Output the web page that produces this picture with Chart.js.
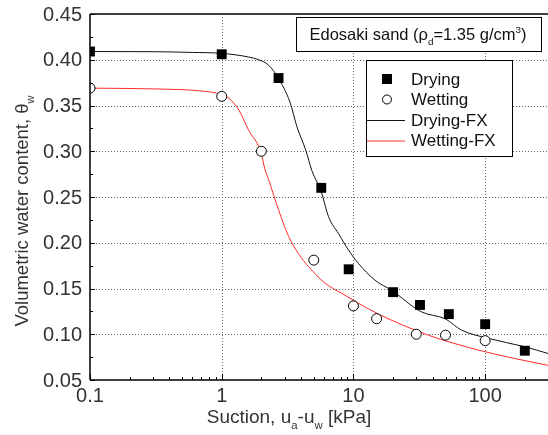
<!DOCTYPE html>
<html>
<head>
<meta charset="utf-8">
<script src="https://cdn.jsdelivr.net/npm/chart.js@4.4.0/dist/chart.umd.min.js"></script>
<style>
  html, body { margin: 0; padding: 0; background: #fff; }
  canvas { display: block; }
</style>
</head>
<body>
<canvas id="myChart" width="548" height="435"></canvas>
<script>
// measured points
var dryingSuction = [0.1, 1, 2.7, 5.7, 9.2, 20, 32, 53, 100, 200];
var dryingTheta = [0.409, 0.406, 0.380, 0.260, 0.171, 0.146, 0.132, 0.122, 0.111, 0.082];
var wettingSuction = [0.1, 1, 2, 5, 10, 15, 30, 50, 100];
var wettingTheta = [0.369, 0.360, 0.300, 0.181, 0.131, 0.117, 0.100, 0.099, 0.093];

// fitted curves (Fredlund-Xing)
var dryingFxSuction = [0.1, 0.3, 0.6, 1, 1.6, 1.91, 2.27, 2.66, 3.31, 3.72, 4.35, 4.83, 5.69, 6.47, 7.7, 9.17, 10.9, 14.6, 19.5, 32.7, 50, 66, 105, 199, 300];
var dryingFxTheta = [0.409, 0.4088, 0.408, 0.407, 0.403, 0.400, 0.394, 0.381, 0.353, 0.327, 0.301, 0.279, 0.256, 0.2285, 0.210, 0.192, 0.1775, 0.159, 0.148, 0.1246, 0.1167, 0.1046, 0.0956, 0.0864, 0.079];
var wettingFxSuction = [0.1, 0.34, 0.68, 1, 1.13, 1.35, 1.6, 1.96, 2.14, 2.27, 2.48, 2.7, 3.22, 3.83, 4.56, 6.1, 8.15, 10.9, 15.5, 37, 88.5, 150, 300];
var wettingFxTheta = [0.369, 0.368, 0.366, 0.362, 0.358, 0.345, 0.323, 0.301, 0.279, 0.269, 0.252, 0.236, 0.207, 0.188, 0.174, 0.1557, 0.1447, 0.134, 0.122, 0.099, 0.0828, 0.075, 0.066];

var xTickValues = [0.1, 1, 10, 100];
var xTickLabels = ['0.1', '1', '10', '100'];
var yTickValues = [0.05, 0.10, 0.15, 0.20, 0.25, 0.30, 0.35, 0.40, 0.45];
var yTickLabels = ['0.05', '0.10', '0.15', '0.20', '0.25', '0.30', '0.35', '0.40', '0.45'];

var FONT = '"Liberation Sans", Arial, sans-serif';

function points(xs, ys) {
    return xs.map(function (x, i) { return { x: x, y: ys[i] }; });
}

// draw text with sub/superscript pieces
function richText(ctx, parts, x, y, size, align) {
    var total = 0;
    parts.forEach(function (p) {
        ctx.font = (p.sub || p.sup ? size * 0.6 : size) + 'px ' + FONT;
        p.w = ctx.measureText(p.t).width;
        total += p.w;
    });
    var cx = align === 'center' ? x - total / 2 : x;
    parts.forEach(function (p) {
        ctx.font = (p.sub || p.sup ? size * 0.6 : size) + 'px ' + FONT;
        var dy = p.sub ? size * 0.3 : (p.sup ? -size * 0.45 : 0);
        ctx.fillText(p.t, cx, y + dy);
        cx += p.w;
    });
}

function seg(ctx, x1, y1, x2, y2) {
    ctx.beginPath();
    ctx.moveTo(x1, y1);
    ctx.lineTo(x2, y2);
    ctx.stroke();
}

var framePlugin = {
    id: 'frame',
    beforeDatasetsDraw: function (chart) {
        var ctx = chart.ctx, a = chart.chartArea;
        var xs = chart.scales.x, ys = chart.scales.y;
        ctx.save();
        ctx.strokeStyle = '#666';
        ctx.lineWidth = 1;
        ctx.setLineDash([1, 2]);
        for (var i = 1; i < yTickValues.length - 1; i++) {
            var py = Math.round(ys.getPixelForValue(yTickValues[i])) + 0.5;
            seg(ctx, a.left, py, a.right, py);
        }
        for (var j = 1; j < xTickValues.length; j++) {
            var px = Math.round(xs.getPixelForValue(xTickValues[j])) + 0.5;
            seg(ctx, px, a.top, px, a.bottom);
        }
        ctx.restore();
    },
    afterDatasetsDraw: function (chart) {
        var ctx = chart.ctx, a = chart.chartArea;
        var xs = chart.scales.x, ys = chart.scales.y;
        ctx.save();

        // hide the parts of the edge markers that fall left of the plot
        ctx.fillStyle = '#fff';
        ctx.fillRect(0, 0, a.left, chart.height);

        // axes
        ctx.strokeStyle = '#000';
        ctx.lineWidth = 1.5;
        seg(ctx, a.left, a.top, a.left, a.bottom);
        seg(ctx, a.left, a.bottom, a.right, a.bottom);
        seg(ctx, a.left, a.top, a.right, a.top);

        // ticks
        ctx.lineWidth = 1;
        var k, m, v, p;
        for (k = -1; k <= 2; k++) {
            for (m = 1; m <= 9; m++) {
                v = m * Math.pow(10, k);
                if (v > 300) continue;
                p = Math.round(xs.getPixelForValue(v)) + 0.5;
                seg(ctx, p, a.bottom, p, a.bottom - (m === 1 ? 6 : 3));
            }
        }
        for (k = 0; k < yTickValues.length; k++) {
            p = Math.round(ys.getPixelForValue(yTickValues[k])) + 0.5;
            seg(ctx, a.left, p, a.left + 5, p);
            if (k < yTickValues.length - 1) {
                p = Math.round(ys.getPixelForValue(yTickValues[k] + 0.025)) + 0.5;
                seg(ctx, a.left, p, a.left + 3, p);
            }
        }

        // tick labels
        ctx.fillStyle = '#333';
        ctx.font = '20px ' + FONT;
        ctx.textAlign = 'right';
        ctx.textBaseline = 'middle';
        for (k = 0; k < yTickValues.length; k++) {
            ctx.fillText(yTickLabels[k], a.left - 8, ys.getPixelForValue(yTickValues[k]) + 1);
        }
        ctx.textAlign = 'center';
        ctx.textBaseline = 'top';
        for (k = 0; k < xTickValues.length; k++) {
            ctx.fillText(xTickLabels[k], xs.getPixelForValue(xTickValues[k]), a.bottom + 6);
        }

        // axis titles
        ctx.textAlign = 'left';
        ctx.textBaseline = 'alphabetic';
        richText(ctx, [{ t: 'Suction, u' }, { t: 'a', sub: true }, { t: '-u' }, { t: 'w', sub: true }, { t: ' [kPa]' }], 289, 423, 19, 'center');
        ctx.save();
        ctx.translate(28, 211);
        ctx.rotate(-Math.PI / 2);
        richText(ctx, [{ t: 'Volumetric water content, \u03b8' }, { t: 'w', sub: true }], 0, 0, 18.5, 'center');
        ctx.restore();

        // annotation box
        ctx.fillStyle = '#fff';
        ctx.strokeStyle = '#000';
        ctx.lineWidth = 1;
        ctx.fillRect(296, 17, 245, 34);
        ctx.strokeRect(296.5, 17.5, 245, 34);
        ctx.fillStyle = '#111';
        richText(ctx, [{ t: 'Edosaki sand (\u03c1' }, { t: 'd', sub: true }, { t: '=1.35 g/cm' }, { t: '3', sup: true }, { t: ')' }], 418, 40, 16.5, 'center');

        // legend box
        ctx.fillStyle = '#fff';
        ctx.fillRect(366, 60, 146, 96);
        ctx.strokeRect(366.5, 60.5, 146, 96);
        var rows = [79, 99.5, 120, 140.5];
        var dsets = chart.data.datasets;
        ctx.font = '17px ' + FONT;
        ctx.textBaseline = 'middle';
        for (k = 0; k < dsets.length; k++) {
            var d = dsets[k], ry = rows[k];
            if (d.showLine) {
                ctx.strokeStyle = d.borderColor;
                ctx.lineWidth = 1;
                seg(ctx, 367, ry + 0.5, 405, ry + 0.5);
            } else if (d.pointStyle === 'rect') {
                ctx.fillStyle = '#000';
                ctx.fillRect(382, ry - 5, 10, 10);
            } else {
                ctx.fillStyle = '#fff';
                ctx.strokeStyle = '#000';
                ctx.lineWidth = 1;
                ctx.beginPath();
                ctx.arc(387, ry, 4.5, 0, Math.PI * 2);
                ctx.fill();
                ctx.stroke();
            }
            ctx.fillStyle = '#111';
            ctx.fillText(d.label, 411, ry + 1);
        }
        ctx.restore();
    }
};

var ctx = document.getElementById('myChart').getContext('2d');
var myChart = new Chart(ctx, {
    type: 'scatter',
    data: {
        datasets: [{
            label: 'Drying',
            data: points(dryingSuction, dryingTheta),
            pointStyle: 'rect',
            pointRadius: 7,
            backgroundColor: '#000',
            borderWidth: 0
        }, {
            label: 'Wetting',
            data: points(wettingSuction, wettingTheta),
            pointStyle: 'circle',
            pointRadius: 5,
            backgroundColor: '#fff',
            borderColor: '#000',
            borderWidth: 1
        }, {
            label: 'Drying-FX',
            data: points(dryingFxSuction, dryingFxTheta),
            showLine: true,
            pointRadius: 0,
            borderColor: '#111',
            borderWidth: 1,
            cubicInterpolationMode: 'monotone'
        }, {
            label: 'Wetting-FX',
            data: points(wettingFxSuction, wettingFxTheta),
            showLine: true,
            pointRadius: 0,
            borderColor: '#ff2a2a',
            borderWidth: 1,
            cubicInterpolationMode: 'monotone'
        }]
    },
    options: {
        responsive: false,
        animation: false,
        layout: { autoPadding: false, padding: { left: 90, top: 14, right: 0, bottom: 55 } },
        scales: {
            x: { type: 'logarithmic', min: 0.1, max: 300, display: false },
            y: { type: 'linear', min: 0.05, max: 0.45, display: false }
        },
        plugins: {
            legend: { display: false },
            tooltip: { enabled: false }
        }
    },
    plugins: [framePlugin]
});
</script>
</body>
</html>
